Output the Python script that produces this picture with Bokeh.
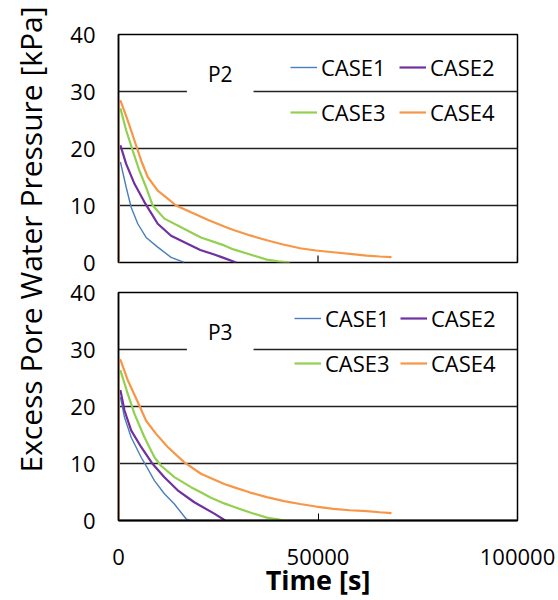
import math
from bokeh.plotting import figure
from bokeh.models import Range1d, FixedTicker, Legend, LegendItem, Label
from bokeh.layouts import row, column
from bokeh.embed import file_html
from bokeh.resources import INLINE

FONT = "Open Sans"

case_names = ["CASE1", "CASE2", "CASE3", "CASE4"]
case_colors = ["#4A7EBB", "#7030A0", "#92D050", "#F79646"]
case_widths = [1.4, 2.2, 2.2, 2.2]
x_ticks = [0, 50000, 100000]
y_ticks = [0, 10, 20, 30, 40]
y_title = "Excess Pore Water Pressure [kPa]"
x_title = "Time [s]"

# ---- P2 ----
p2_case1_t = [0, 0, 500, 1920, 3170, 4830, 6920, 9830, 13170, 16500]
p2_case1_v = [0, 17.0, 17.6, 13.2, 9.7, 6.8, 4.4, 2.7, 0.9, 0.0]
p2_case2_t = [0, 0, 500, 1920, 4000, 6500, 9830, 13170, 18170, 20500, 24000, 26000, 29500]
p2_case2_v = [0, 20.0, 20.5, 17.3, 13.8, 10.6, 6.8, 4.7, 3.0, 2.2, 1.4, 0.9, 0.0]
p2_case3_t = [0, 0, 500, 1920, 3580, 5250, 6920, 8580, 11500, 15670, 20670, 26500, 28830, 33000, 37170, 40000, 43000]
p2_case3_v = [0, 26.5, 27.0, 23.2, 19.6, 16.1, 13.2, 10.0, 7.7, 6.2, 4.4, 3.0, 2.3, 1.4, 0.5, 0.2, 0.0]
p2_case4_t = [0, 0, 500, 2330, 4000, 5670, 7330, 9830, 12330, 14420, 18170, 22330, 26500, 28830, 33000,
              37170, 41000, 45500, 49500, 53830, 58000, 62170, 65500, 68420]
p2_case4_v = [0, 28.0, 28.4, 24.9, 21.4, 17.9, 15.0, 12.6, 11.2, 10.0, 8.8, 7.5, 6.3, 5.7, 4.75,
              3.9, 3.2, 2.5, 2.1, 1.8, 1.5, 1.2, 1.05, 0.93]

# ---- P3 ----
p3_case1_t = [0, 0, 500, 1500, 3170, 5670, 6920, 9000, 11500, 14000, 16920, 17800]
p3_case1_v = [0, 21.0, 21.6, 18.1, 14.6, 11.1, 9.6, 7.0, 4.7, 2.9, 0.3, 0.0]
p3_case2_t = [0, 0, 500, 1500, 3170, 5670, 8580, 11500, 14830, 19000, 24000, 26750]
p3_case2_v = [0, 22.5, 22.8, 19.3, 15.8, 12.9, 9.9, 7.6, 5.3, 3.2, 1.2, 0.0]
p3_case3_t = [0, 0, 500, 2330, 4000, 6500, 9000, 10670, 14000, 18170, 20500, 23170, 26500, 28830, 33000,
              37170, 41750]
p3_case3_v = [0, 26.0, 26.3, 22.2, 18.7, 14.6, 11.1, 9.6, 7.6, 5.85, 5.0, 4.0, 3.0, 2.4, 1.4,
              0.5, 0.0]
p3_case4_t = [0, 0, 500, 2330, 4830, 6920, 9420, 12330, 16500, 20670, 26500, 28830, 33000, 37170, 41500,
              45500, 49500, 53830, 58000, 62170, 65500, 68420]
p3_case4_v = [0, 28.0, 28.2, 24.6, 20.8, 17.5, 15.2, 12.9, 10.2, 8.2, 6.4, 5.85, 4.9, 4.1, 3.4,
              2.9, 2.45, 2.05, 1.8, 1.64, 1.45, 1.29]

p2_series = [(p2_case1_t, p2_case1_v), (p2_case2_t, p2_case2_v), (p2_case3_t, p2_case3_v), (p2_case4_t, p2_case4_v)]
p3_series = [(p3_case1_t, p3_case1_v), (p3_case2_t, p3_case2_v), (p3_case3_t, p3_case3_v), (p3_case4_t, p3_case4_v)]


def make_panel(series, tag, height, top, bottom, leg_x, leg_y1, leg_y2, spacing, show_xaxis):
    p = figure(width=508, height=height, x_range=Range1d(0, 100000), y_range=Range1d(0, 40),
               output_backend="svg", toolbar_location=None,
               x_axis_location="below" if show_xaxis else None,
               min_border_left=68, min_border_right=41, min_border_top=top, min_border_bottom=bottom)
    p.outline_line_color = "black"
    p.outline_line_width = 1.5
    p.xgrid.visible = False
    p.ygrid.ticker = FixedTicker(ticks=y_ticks)
    p.ygrid.grid_line_color = "#222222"
    p.ygrid.grid_line_width = 1.4

    p.yaxis.ticker = FixedTicker(ticks=y_ticks)
    p.yaxis.major_tick_out = 0
    p.yaxis.major_tick_in = 0
    p.yaxis.minor_tick_line_color = None
    p.yaxis.axis_line_color = "black"
    p.yaxis.axis_line_width = 1.5
    p.yaxis.major_label_text_font = FONT
    p.yaxis.major_label_text_font_size = "22px"
    p.yaxis.major_label_text_color = "black"
    p.yaxis.major_label_standoff = 23

    if show_xaxis:
        p.xaxis.ticker = FixedTicker(ticks=x_ticks)
        p.xaxis.major_tick_out = 0
        p.xaxis.major_tick_in = 7
        p.xaxis.major_tick_line_color = "black"
        p.xaxis.minor_tick_line_color = None
        p.xaxis.axis_line_color = "black"
        p.xaxis.axis_line_width = 2.2
        p.xaxis.formatter.use_scientific = False
        p.xaxis.major_label_text_font = FONT
        p.xaxis.major_label_text_font_size = "22px"
        p.xaxis.major_label_text_color = "black"
        p.xaxis.major_label_text_line_height = 1.0
        p.xaxis.major_label_standoff = 28
        p.xaxis.axis_label = x_title
        p.xaxis.axis_label_text_font = FONT
        p.xaxis.axis_label_text_font_size = "27px"
        p.xaxis.axis_label_text_font_style = "bold"
        p.xaxis.axis_label_text_color = "black"
        p.xaxis.axis_label_text_line_height = 1.0
        p.xaxis.axis_label_standoff = -7
    else:
        # inward tick marks on the bottom edge (no labels in this panel)
        p.scatter(x=x_ticks, y=[y_ticks[0]] * len(x_ticks), marker="dash", size=14,
                  angle=math.pi / 2, line_color="black", line_width=1.2)

    rends = []
    for (t, v), name, c, w in zip(series, case_names, case_colors, case_widths):
        rends.append(p.line(t, v, line_color=c, line_width=w))

    lab = Label(x=25500, y=33.1, text=tag, text_align="center", text_baseline="middle",
                text_font=FONT, text_font_size="21px", text_color="black",
                background_fill_color="white", padding=dict(left=21, right=21, top=10, bottom=10))
    p.add_layout(lab)

    for (i0, i1), ly in (((0, 1), leg_y1), ((2, 3), leg_y2)):
        leg = Legend(items=[LegendItem(label=case_names[i0], renderers=[rends[i0]]),
                            LegendItem(label=case_names[i1], renderers=[rends[i1]])],
                     orientation="horizontal", location=(leg_x, ly), padding=0, margin=0,
                     spacing=spacing, glyph_width=27, glyph_height=20, label_height=20, label_width=66,
                     label_standoff=4, border_line_color=None, background_fill_alpha=0,
                     label_text_font=FONT, label_text_font_size="22px", label_text_color="black")
        p.add_layout(leg)
    return p


top_panel = make_panel(p2_series, "P2", 277, 34, 15, 172, 180, 135, 12, False)
bottom_panel = make_panel(p3_series, "P3", 323, 15, 80, 176, 187, 142, 9, True)

tfig = figure(width=50, height=600, x_range=Range1d(0, 50), y_range=Range1d(0, 600),
              output_backend="svg", toolbar_location=None,
              min_border=0, min_border_left=0, min_border_right=0, min_border_top=0, min_border_bottom=0)
tfig.axis.visible = False
tfig.grid.visible = False
tfig.outline_line_color = None
tfig.add_layout(Label(x=30, y=361, text=y_title, angle=math.pi / 2, text_align="center",
                      text_baseline="middle", text_font=FONT, text_font_size="30px", text_color="black"))

layout = row(tfig, column(top_panel, bottom_panel))
open("out.html", "w").write(file_html(layout, INLINE))
